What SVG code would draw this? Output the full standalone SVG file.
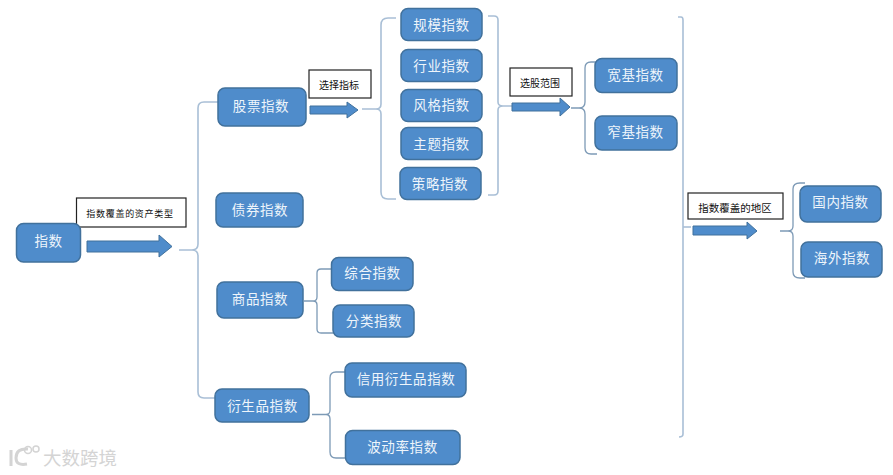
<svg xmlns="http://www.w3.org/2000/svg" width="893" height="475" viewBox="0 0 893 475">
<style>
.n{fill:#4f8ccb;stroke:#41719c;stroke-width:1.5}
.nt{fill:#eef5fb;font:13.500px "Noto Sans CJK SC","Liberation Sans",sans-serif;text-anchor:middle;letter-spacing:.6px;transform:translateY(-1px)}
.b{fill:none;stroke:#a9bfd6;stroke-width:1.6}
.s{fill:none;stroke:#7d9ab6;stroke-width:1.3}
.a{fill:#4f8ccb;stroke:#41719c;stroke-width:1}
.l{fill:#fff;stroke:#222;stroke-width:1.2}
.lt{fill:#111;font:10px "Noto Sans CJK SC","Liberation Sans",sans-serif;text-anchor:middle}
.wm{fill:#d4d4d4;font:18.500px "Noto Sans CJK SC","Liberation Sans",sans-serif}
</style>
<rect width="893" height="475" fill="#fff"/>
<g id="connectors">
<path class="b" d="M179 250H192Q198 250 198 244V108Q198 102 204 102H218M192 250Q198 250 198 256V392Q198 398 204 398H215"/>
<path class="s" d="M304 301H313Q317 301 317 297V273Q317 269 321 269H331M313 301Q317 301 317 305V329Q317 333 321 333H333"/>
<path class="s" d="M312 414.500H326Q330 414.500 330 410V378Q330 372 336 372H345M326 414.500Q330 414.500 330 419V452Q330 458 336 458H346"/>
<path class="b" d="M362 109H376Q381 109 381 104V25Q381 18 388 18H396M376 109Q381 109 381 114V192Q381 199 388 199H396"/>
<path class="b" d="M488 16H494Q498 16 498 20V102Q498 106 503 106H512M503 106Q498 106 498 110V191Q498 195 494 195H488"/>
<path class="s" d="M571 108H579Q585 108 585 102V68Q585 62 591 62H597M579 108Q585 108 585 114V148Q585 154 591 154H597"/>
<path class="b" stroke-width="2" d="M678 17H681Q683 17 683 20V434Q683 437 679 437"/>
<path class="b" d="M683 227H691"/>
<path class="s" d="M780 231H788Q793 231 793 226V189Q793 183 800 183H805M788 231Q793 231 793 236V272Q793 278 800 278H805"/>
<path class="a" d="M87 241H159V235L172 246.500L159 257V252H87Z"/>
<path class="a" d="M310 106H347V102L358 110L347 118V114H310Z"/>
<path class="a" d="M512 103H560V98L570 107L560 116V111H512Z"/>
<path class="a" d="M693 226H747V222L757 231L747 239V235H693Z"/>
</g>
<g id="label-asset"><rect class="l" x="76.500" y="198" width="109.500" height="29"/><text class="lt" x="130" y="217" font-weight="bold" style="font-size:9px;letter-spacing:.7px">指数覆盖的资产类型</text></g>
<g id="label-select"><rect class="l" x="309" y="70" width="62" height="28"/><text class="lt" x="339" y="89">选择指标</text></g>
<g id="label-range"><rect class="l" x="510" y="68" width="62" height="28"/><text class="lt" x="540" y="87">选股范围</text></g>
<g id="label-region"><rect class="l" x="688" y="193" width="95" height="26"/><text class="lt" x="735" y="212" style="font-size:10.500px">指数覆盖的地区</text></g>
<g id="n-index"><rect class="n" x="16.500" y="223.500" width="64" height="38.500" rx="7"/><text class="nt" x="48.500" y="247">指数</text></g>
<g id="n-stock"><rect class="n" x="218" y="88" width="88" height="38" rx="7"/><text class="nt" x="261" y="112">股票指数</text></g>
<g id="n-bond"><rect class="n" x="216" y="193" width="87" height="34" rx="7"/><text class="nt" x="260" y="216">债券指数</text></g>
<g id="n-commodity"><rect class="n" x="217" y="282" width="86" height="36" rx="7"/><text class="nt" x="260" y="305">商品指数</text></g>
<g id="n-derivative"><rect class="n" x="215" y="389" width="94" height="33" rx="7"/><text class="nt" x="262.500" y="412">衍生品指数</text></g>
<g id="n-scale"><rect class="n" x="401" y="8.500" width="81" height="32" rx="7"/><text class="nt" x="441.500" y="31">规模指数</text></g>
<g id="n-industry"><rect class="n" x="401" y="49.500" width="81" height="32" rx="7"/><text class="nt" x="441.500" y="71.500">行业指数</text></g>
<g id="n-style"><rect class="n" x="401" y="89.500" width="81" height="32" rx="7"/><text class="nt" x="441.500" y="111">风格指数</text></g>
<g id="n-theme"><rect class="n" x="401" y="127.500" width="81" height="32" rx="7"/><text class="nt" x="441.500" y="150">主题指数</text></g>
<g id="n-strategy"><rect class="n" x="400" y="167.500" width="81" height="32" rx="7"/><text class="nt" x="440" y="189.500">策略指数</text></g>
<g id="n-broad"><rect class="n" x="595" y="58.500" width="82" height="34" rx="7"/><text class="nt" x="635.500" y="81">宽基指数</text></g>
<g id="n-narrow"><rect class="n" x="595" y="116" width="82" height="34" rx="7"/><text class="nt" x="635.500" y="138">窄基指数</text></g>
<g id="n-domestic"><rect class="n" x="800" y="186" width="81" height="36" rx="7"/><text class="nt" x="840.500" y="208">国内指数</text></g>
<g id="n-overseas"><rect class="n" x="801" y="242" width="81" height="35" rx="7"/><text class="nt" x="842" y="264">海外指数</text></g>
<g id="n-composite"><rect class="n" x="331.500" y="257.500" width="81.500" height="33" rx="7"/><text class="nt" x="372.500" y="279">综合指数</text></g>
<g id="n-category"><rect class="n" x="333" y="305" width="81" height="32" rx="7"/><text class="nt" x="374" y="327">分类指数</text></g>
<g id="n-credit"><rect class="n" x="345" y="363" width="121" height="34" rx="7"/><text class="nt" x="406" y="385">信用衍生品指数</text></g>
<g id="n-vol"><rect class="n" x="345.500" y="430.500" width="114.500" height="34" rx="7"/><text class="nt" x="402.500" y="453">波动率指数</text></g>
<text class="wm" x="43" y="465">大数跨境</text>
<path fill="none" stroke="#d4d4d4" stroke-width="3" d="M11 450V466M28 449Q16 448 16 458Q16 466 27 464"/>
<circle cx="28" cy="450" r="3.500" fill="none" stroke="#d4d4d4" stroke-width="1.500"/>
<circle cx="36" cy="449" r="3" fill="none" stroke="#d4d4d4" stroke-width="1.500"/>
</svg>
